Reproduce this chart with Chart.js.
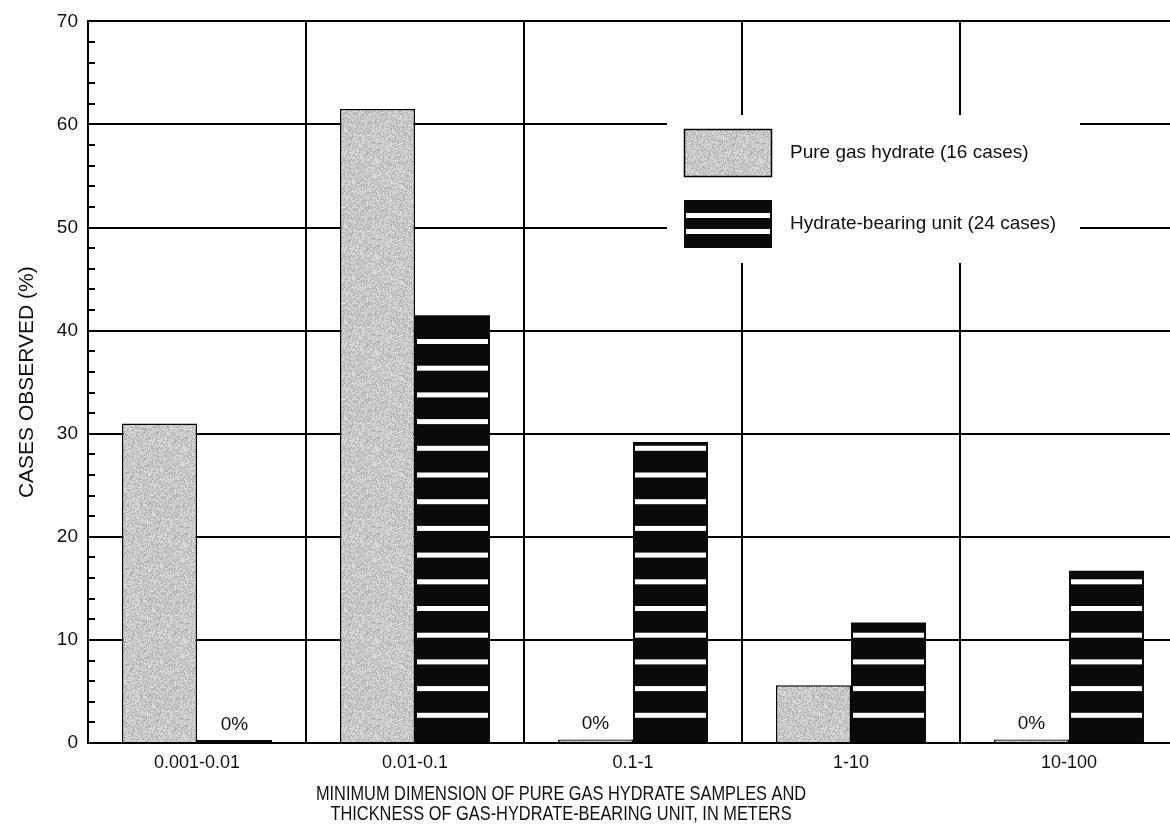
<!DOCTYPE html>
<html>
<head>
<meta charset="utf-8">
<script src="https://cdn.jsdelivr.net/npm/chart.js@4.4.1/dist/chart.umd.min.js"></script>
<style>
  html, body { margin: 0; padding: 0; background: #fff; overflow: hidden; }
  #chart { display: block; }
</style>
</head>
<body>
<canvas id="chart" width="1190" height="832"></canvas>
<script>
// ── DATA ─────────────────────────────────────────────
const sizeClasses = ['0.001-0.01', '0.01-0.1', '0.1-1', '1-10', '10-100'];
const pureHydrate = [31, 61.5, 0, 5.6, 0];
const hydrateUnit = [0, 41.5, 29.2, 11.7, 16.7];
const seriesNames = ['Pure gas hydrate (16 cases)', 'Hydrate-bearing unit (24 cases)'];
const yTicks = [0, 10, 20, 30, 40, 50, 60, 70];
const minorStep = 2;
const xTitle = ['MINIMUM DIMENSION OF PURE GAS HYDRATE SAMPLES AND',
                'THICKNESS OF GAS-HYDRATE-BEARING UNIT, IN METERS'];

const FONT = "'Liberation Sans', Arial, Helvetica, sans-serif";

// ── FILLS ────────────────────────────────────────────
// speckled grey, hashed per pixel so it is the same every time
function stipple() {
  const n = 96;
  const c = document.createElement('canvas');
  c.width = c.height = n;
  const g = c.getContext('2d');
  const img = g.createImageData(n, n);
  for (let y = 0; y < n; y++) {
    for (let x = 0; x < n; x++) {
      let h = (x * 374761393 + y * 668265263) | 0;
      h = Math.imul(h ^ (h >>> 13), 1274126177);
      h = (h ^ (h >>> 16)) >>> 0;
      const v = 200 + ((h & 255) - 128) * 0.22;
      const i = (y * n + x) * 4;
      img.data[i] = img.data[i + 1] = img.data[i + 2] = v;
      img.data[i + 3] = 255;
    }
  }
  g.putImageData(img, 0, 0);
  return g.createPattern(c, 'repeat');
}

const canvas = document.getElementById('chart');
const ctx = canvas.getContext('2d');
const grey = stipple();

// ── PLUGINS ──────────────────────────────────────────
const STRIPE_GAP = 26.7, STRIPE_H = 5, STRIPE_INSET = 2;

function stripes(c, x0, w, top, base) {
  c.fillStyle = '#fff';
  for (let s = base - STRIPE_GAP; s - STRIPE_H / 2 > top + 3; s -= STRIPE_GAP) {
    c.fillRect(x0 + STRIPE_INSET, s - STRIPE_H / 2, w - 2 * STRIPE_INSET, STRIPE_H);
  }
}

const minorTicks = {
  id: 'minorTicks',
  afterDatasetsDraw(chart) {
    const y = chart.scales.y, c = chart.ctx, left = chart.chartArea.left;
    c.save();
    c.strokeStyle = '#000';
    c.lineWidth = 2;
    c.beginPath();
    for (let v = y.min; v <= y.max; v += minorStep) {
      const py = Math.round(y.getPixelForValue(v));
      c.moveTo(left, py);
      c.lineTo(left + 7, py);
    }
    c.stroke();
    c.restore();
  }
};

const barStripes = {
  id: 'barStripes',
  afterDatasetsDraw(chart) {
    const c = chart.ctx;
    c.save();
    chart.getDatasetMeta(1).data.forEach((bar, i) => {
      if (!hydrateUnit[i]) return;
      const p = bar.getProps(['x', 'y', 'base', 'width'], true);
      stripes(c, p.x - p.width / 2, p.width, p.y, p.base);
    });
    c.restore();
  }
};

const zeroLabels = {
  id: 'zeroLabels',
  afterDatasetsDraw(chart) {
    const c = chart.ctx;
    c.save();
    c.fillStyle = '#111';
    c.font = '19px ' + FONT;
    c.textAlign = 'center';
    c.textBaseline = 'bottom';
    chart.data.datasets.forEach((ds, d) => {
      chart.getDatasetMeta(d).data.forEach((bar, i) => {
        if (ds.data[i] !== 0) return;
        const p = bar.getProps(['x', 'y'], true);
        c.fillText('0%', p.x, p.y - 6);
      });
    });
    c.restore();
  }
};

// two-line axis title in a slightly condensed face
const axisTitle = {
  id: 'axisTitle',
  afterDraw(chart) {
    const c = chart.ctx;
    c.save();
    c.fillStyle = '#111';
    c.font = '19.5px ' + FONT;
    c.textAlign = 'center';
    c.textBaseline = 'middle';
    c.translate(561, 0);
    c.scale(0.84, 1);
    c.fillText(xTitle[0], 0, 795);
    c.fillText(xTitle[1], 0, 815);
    c.restore();
  }
};

// legend box sits on a white patch that cuts the grid
const boxLegend = {
  id: 'boxLegend',
  afterDraw(chart) {
    const c = chart.ctx;
    c.save();
    c.fillStyle = '#fff';
    c.fillRect(667, 115, 413, 148);

    c.fillStyle = grey;
    c.fillRect(684, 129, 88, 48);
    c.strokeStyle = '#000';
    c.lineWidth = 1.5;
    c.strokeRect(684.5, 129.5, 87, 47);

    c.fillStyle = '#0a0a0a';
    c.fillRect(684, 200, 88, 48);
    c.fillStyle = '#fff';
    c.fillRect(686, 213, 84, 5);
    c.fillRect(686, 229, 84, 5);

    c.fillStyle = '#111';
    c.font = '19px ' + FONT;
    c.textBaseline = 'middle';
    c.fillText(seriesNames[0], 790, 153);
    c.fillText(seriesNames[1], 790, 224);
    c.restore();
  }
};

// ── CHART ────────────────────────────────────────────
new Chart(ctx, {
  type: 'bar',
  data: {
    labels: sizeClasses,
    datasets: [
      {
        label: seriesNames[0],
        data: pureHydrate,
        backgroundColor: grey,
        borderColor: '#000',
        borderWidth: 1.5,
        minBarLength: 3.5,
      },
      {
        label: seriesNames[1],
        data: hydrateUnit,
        backgroundColor: '#0a0a0a',
        borderColor: '#0a0a0a',
        borderWidth: 0,
        minBarLength: 3,
      }
    ]
  },
  options: {
    responsive: false,
    animation: false,
    layout: { padding: { top: 20, right: 12, bottom: 0, left: 0 } },
    datasets: { bar: { categoryPercentage: 0.688, barPercentage: 1 } },
    plugins: { legend: { display: false }, tooltip: { enabled: false } },
    scales: {
      x: {
        grid: { color: '#000', lineWidth: 2, drawTicks: false, offset: true },
        border: { color: '#000', width: 2 },
        ticks: { color: '#111', padding: 9, font: { family: FONT, size: 18 } },
        afterFit: s => { s.height = 89; }
      },
      y: {
        min: yTicks[0],
        max: yTicks[yTicks.length - 1],
        grid: { color: '#000', lineWidth: 2, drawTicks: false },
        border: { color: '#000', width: 2 },
        ticks: { stepSize: yTicks[1] - yTicks[0], color: '#111', padding: 10, font: { family: FONT, size: 19 } },
        title: {
          display: true,
          text: 'CASES OBSERVED (%)',
          color: '#111',
          font: { family: FONT, size: 21, lineHeight: '25px' },
          padding: { top: 15, bottom: 0 }
        },
        afterFit: s => { s.width = 88; }
      }
    }
  },
  plugins: [minorTicks, barStripes, zeroLabels, axisTitle, boxLegend]
});
</script>
</body>
</html>
